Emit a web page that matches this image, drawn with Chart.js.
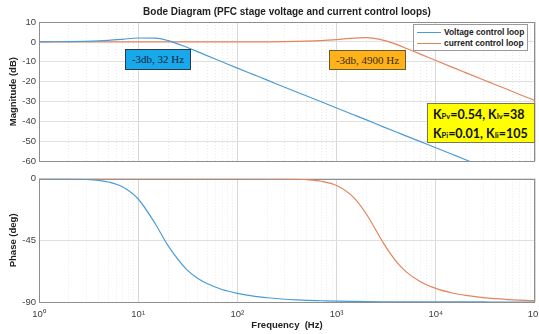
<!DOCTYPE html>
<html>
<head>
<meta charset="utf-8">
<script src="https://cdn.jsdelivr.net/npm/chart.js@4.4.1/dist/chart.umd.min.js"></script>
<style>
  body { margin: 0; background: #fff; }
  #wrap { position: relative; width: 539px; height: 334px; overflow: hidden; font-family: "Liberation Sans", Arial, sans-serif; }
  #magCanvas { position: absolute; left: 0; top: 0; }
  #phaseCanvas { position: absolute; left: 0; top: 170px; }
  #legende { position: absolute; left: 413px; top: 24px; width: 113px; height: 25px; border: 1px solid #9a9a9a; background: #fff; }
  .ligneLeg { position: absolute; left: 0; height: 11px; width: 113px; font-size: 8.4px; font-weight: bold; color: #222; line-height: 11px; white-space: nowrap; }
  .ligneLeg span.trait { position: absolute; left: 3px; top: 5px; width: 24px; height: 1px; }
  .ligneLeg span.txt { position: absolute; left: 30px; top: 0; }
  .boite { position: absolute; box-sizing: border-box; text-align: center; white-space: nowrap; }
  #note32 { left: 125px; top: 49px; width: 66px; height: 21px; background: #18a9ea; border: 1px solid #2b3a4a; font: 11px "Liberation Serif", "Times New Roman", serif; line-height: 19px; color: #14213a; }
  #note4900 { left: 329px; top: 50px; width: 77px; height: 20px; background: #ffb21a; border: 1px solid #6a5a30; font: 11px "Liberation Serif", "Times New Roman", serif; line-height: 18px; color: #3a2a10; }
  #gains { left: 427px; top: 103px; width: 108px; height: 40px; background: #ffff00; border: 1px solid #7a7a50; font: bold 12.5px Lato, "Open Sans", sans-serif; line-height: 17px; padding-top: 2px; text-align: left; padding-left: 5px; color: #111; }
  #gains sub { font-size: 7.5px; vertical-align: 0px; }
</style>
</head>
<body>
<div id="wrap">
  <canvas id="magCanvas" width="539" height="170"></canvas>
  <canvas id="phaseCanvas" width="539" height="164"></canvas>
  <div id="legende"></div>
  <div class="boite" id="note32">-3db, 32 Hz</div>
  <div class="boite" id="note4900">-3db, 4900 Hz</div>
  <div class="boite" id="gains">K<sub>Pv</sub>=0.54, K<sub>Iv</sub>=38<br>K<sub>Pi</sub>=0.01, K<sub>Ii</sub>=105</div>
</div>
<script>
const freqHz = [1, 1.5, 2, 3, 4, 5, 7,
                10, 15, 20, 30, 40, 50, 70,
                100, 150, 200, 300, 400, 500, 700,
                1000, 1500, 2000, 3000, 4000, 5000, 7000,
                10000, 15000, 20000, 30000, 40000, 50000, 70000,
                100000];

// Boucle de tension : gain (dB) et phase (deg)
const voltMagDb = [0.03, 0.08, 0.14, 0.30, 0.52, 0.77, 1.31,
                   1.95, 1.90, 0.65, -2.46, -5.0, -7.0, -10.0,
                   -13.2, -16.7, -19.2, -22.8, -25.3, -27.2, -30.1,
                   -33.2, -36.7, -39.2, -42.8, -45.3, -47.2, -50.1,
                   -53.2, -56.7, -59.2, -62.8, -65.3, -67.2, -70.1,
                   -73.2];
const voltPhaseDeg = [0, -0.1, -0.2, -0.6, -1.3, -2.4, -6.1,
                      -14.8, -33.4, -48.9, -65.4, -72.8, -76.7, -80.9,
                      -83.7, -85.9, -86.9, -88.0, -88.5, -88.8, -89.1,
                      -89.4, -89.6, -89.7, -89.8, -89.85, -89.9, -89.9,
                      -89.95, -89.96, -89.97, -89.98, -89.99, -89.99, -89.99,
                      -90];

// Boucle de courant : gain (dB) et phase (deg)
const currMagDb = [0, 0, 0, 0, 0, 0, 0,
                   0, 0, 0, 0, 0, 0, 0.01,
                   0.02, 0.03, 0.06, 0.14, 0.23, 0.35, 0.65,
                   1.17, 1.91, 2.10, 0.80, -1.26, -3.16, -6.16,
                   -9.35, -12.94, -15.46, -19.0, -21.5, -23.45, -26.4,
                   -29.5];
const currPhaseDeg = [0, 0, 0, 0, 0, 0, 0,
                      0, 0, 0, 0, 0, 0, 0,
                      -0.01, -0.02, -0.05, -0.16, -0.37, -0.70, -1.84,
                      -4.96, -13.96, -25.92, -47.56, -60.5, -67.8, -75.2,
                      -80.1, -83.6, -85.2, -86.8, -87.6, -88.1, -88.65,
                      -89.06];

const seriesLabels = ["Voltage control loop", "current control loop"];
const seriesColors = ["#4b9cd6", "#e4845c"];
const decadeLabels = ["10\u2070", "10\u00b9", "10\u00b2", "10\u00b3", "10\u2074", "10\u2075"];
const magTicks = [10, 0, -10, -20, -30, -40, -50, -60];
const phaseTicks = [0, -45, -90];

Chart.defaults.font.family = "'Liberation Sans', Arial, sans-serif";
Chart.defaults.color = "#404040";

// Graduations de l'axe log : 1..9 x 10^k
let graduations = [];
for (let k = 0; k < 5; k++) {
    for (let m = 1; m < 10; m++) graduations.push(m * Math.pow(10, k));
}
graduations.push(100000);

function estDecade(v) {
    const l = Math.log10(v);
    return Math.abs(l - Math.round(l)) < 1e-9;
}

function points(valeurs) {
    return freqHz.map((f, i) => ({ x: f, y: valeurs[i] }));
}

function jeux(valeursV, valeursC) {
    return [valeursV, valeursC].map((vals, i) => ({
        label: seriesLabels[i],
        data: points(vals),
        borderColor: seriesColors[i],
        borderWidth: 1.2,
        pointRadius: 0,
        cubicInterpolationMode: 'monotone',
        fill: false
    }));
}

// Cadre gris autour de la zone de tracé (style MATLAB)
const cadre = {
    id: 'cadre',
    beforeDatasetsDraw(chart) {
        const a = chart.chartArea, c = chart.ctx;
        c.save();
        c.strokeStyle = '#8e8e8e';
        c.lineWidth = 1;
        c.strokeRect(Math.round(a.left) + 0.5, Math.round(a.top) + 0.5, Math.round(a.width) - 1, Math.round(a.height));
        c.restore();
    }
};

function axeFreq(avecLabels, hauteur) {
    return {
        type: 'logarithmic',
        min: 1,
        max: 100000,
        afterBuildTicks(scale) { scale.ticks = graduations.map(v => ({ value: v })); },
        ticks: {
            display: avecLabels,
            autoSkip: false,
            maxRotation: 0,
            padding: 7,
            font: { size: 9.5 },
            color: '#404040',
            callback: (v) => estDecade(v) ? decadeLabels[Math.round(Math.log10(v))] : ''
        },
        grid: {
            drawTicks: false,
            color: ctx => (ctx.tick && estDecade(ctx.tick.value)) ? '#d8d8d8' : '#ebebeb'
        },
        border: {
            display: false,
            dash: ctx => (ctx.tick && estDecade(ctx.tick.value)) ? [] : [1, 2]
        },
        title: {
            display: avecLabels,
            text: 'Frequency  (Hz)',
            font: { size: 9.5, weight: 'bold' },
            color: '#222',
            padding: { top: 0, bottom: 3 }
        },
        afterFit(scale) {
            scale.paddingLeft = 0;
            scale.paddingRight = 0;
            scale.height = hauteur;
        }
    };
}

function axeY(min, max, pas, liste, titre) {
    return {
        min: min,
        max: max,
        afterBuildTicks(scale) { scale.ticks = liste.map(v => ({ value: v })); },
        ticks: { stepSize: pas, padding: 3, font: { size: 9.5 }, color: '#404040' },
        grid: { drawTicks: false, color: '#e0e0e0' },
        border: { display: false },
        title: {
            display: true,
            text: titre,
            font: { size: 9.5, weight: 'bold' },
            color: '#222',
            padding: { top: 8, bottom: 0 }
        },
        afterFit(scale) { scale.width = 39; }
    };
}

// Diagramme de gain
const magChart = new Chart(document.getElementById('magCanvas'), {
    type: 'line',
    data: { datasets: jeux(voltMagDb, currMagDb) },
    options: {
        responsive: false,
        animation: false,
        layout: { padding: { top: 0, right: 4, bottom: 3, left: 0 } },
        plugins: {
            legend: { display: false },
            tooltip: { enabled: false },
            title: {
                display: true,
                text: 'Bode Diagram (PFC stage voltage and current control loops)',
                fullSize: false,
                font: { size: 10, weight: 'bold' },
                color: '#222',
                padding: { top: 6, bottom: 4 }
            }
        },
        scales: {
            x: axeFreq(false, 0),
            y: axeY(-60, 10, 10, magTicks, 'Magnitude (dB)')
        }
    },
    plugins: [cadre]
});

// Diagramme de phase
const phaseChart = new Chart(document.getElementById('phaseCanvas'), {
    type: 'line',
    data: { datasets: jeux(voltPhaseDeg, currPhaseDeg) },
    options: {
        responsive: false,
        animation: false,
        layout: { padding: { top: 4, right: 4, bottom: 0, left: 0 } },
        plugins: {
            legend: { display: false },
            tooltip: { enabled: false }
        },
        scales: {
            x: axeFreq(true, 32),
            y: axeY(-90, 0, 45, phaseTicks, 'Phase (deg)')
        }
    },
    plugins: [cadre]
});

// Légende construite à partir des jeux de données
const leg = document.getElementById('legende');
magChart.data.datasets.forEach((ds, i) => {
    const ligne = document.createElement('div');
    ligne.className = 'ligneLeg';
    ligne.style.top = (2 + i * 11) + 'px';
    ligne.innerHTML = '<span class="trait" style="background:' + ds.borderColor + '"></span><span class="txt">' + ds.label + '</span>';
    leg.appendChild(ligne);
});
</script>
</body>
</html>
